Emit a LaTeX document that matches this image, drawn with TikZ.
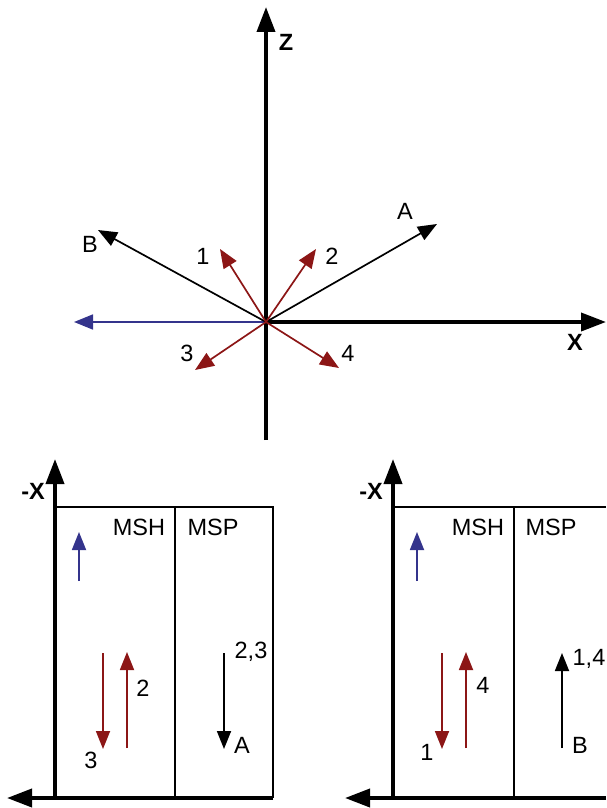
\documentclass[tikz,border=0pt]{standalone}
\usepackage{fontspec}
\setmainfont{Liberation Sans}
\usetikzlibrary{arrows.meta}
\definecolor{vred}{RGB}{140,22,22}
\definecolor{vblue}{RGB}{52,52,140}
\begin{document}
\begin{tikzpicture}[x=1pt,y=-1pt,
  axis/.style={line width=3.8pt,-{Triangle[length=25pt,width=18pt]}},
  vec/.style={line width=1.7pt,-{Triangle[length=19pt,width=15pt]}},
  pvec/.style={line width=1.8pt,-{Triangle[length=18pt,width=14pt]}},
  boxline/.style={line width=1.3pt},
  lbl/.style={inner sep=0pt,font=\fontsize{23.5}{28}\selectfont},
  blbl/.style={inner sep=0pt,font=\fontsize{23.5}{28}\selectfont\bfseries}]
\useasboundingbox (0,0) rectangle (606,808);

% ---------- top diagram ----------
\coordinate (O) at (266,322);
\coordinate (zbot) at (266,440);
\coordinate (ztip) at (266,7);
\coordinate (xtip) at (606,322);
\coordinate (btip) at (98,230);
\coordinate (atip) at (437,224);
\coordinate (t1) at (220,249);
\coordinate (t2) at (316,249);
\coordinate (t3) at (195,370);
\coordinate (t4) at (339,368);
\coordinate (ntip) at (74,322);

\draw[vec,vblue] (O) -- (ntip);
\draw[vec] (O) -- (btip);
\draw[vec] (O) -- (atip);
\draw[axis] (zbot) -- (ztip);
\draw[axis] (O) -- (xtip);
\draw[vec,vred] (O) -- (t1);
\draw[vec,vred] (O) -- (t2);
\draw[vec,vred] (O) -- (t3);
\draw[vec,vred] (O) -- (t4);

\node[blbl] (zl) at (286,42) {Z};
\node[blbl] (xl) at (575,342) {X};
\node[lbl] (bl) at (90,244) {B};
\node[lbl] (al) at (405,211) {A};
\node[lbl] (l1) at (203,256) {1};
\node[lbl] (l2) at (332,256) {2};
\node[lbl] (l3) at (187,353) {3};
\node[lbl] (l4) at (348,353) {4};

% ---------- bottom left panel ----------
\coordinate (p1c) at (55,798);
\coordinate (p1up) at (55,459);
\coordinate (p1left) at (7,798);
\coordinate (p1r) at (273,798);
\coordinate (p1tl) at (55,507);
\coordinate (p1tr) at (273,507);
\coordinate (p1dt) at (175,507);
\coordinate (p1db) at (175,798);

\draw[boxline] (p1tl) -- (p1tr) -- (p1r);
\draw[boxline] (p1dt) -- (p1db);
\draw[axis] (p1r) -- (p1left);
\draw[axis] (p1c) -- (p1up);

\coordinate (b1s) at (79,581);
\coordinate (b1e) at (79,532);
\coordinate (r1s) at (103,653);
\coordinate (r1e) at (103,749);
\coordinate (r2s) at (127,748);
\coordinate (r2e) at (127,652);
\coordinate (k1s) at (224,653);
\coordinate (k1e) at (224,749);
\draw[pvec,vblue] (b1s) -- (b1e);
\draw[pvec,vred] (r1s) -- (r1e);
\draw[pvec,vred] (r2s) -- (r2e);
\draw[pvec] (k1s) -- (k1e);

\node[blbl] (mx1) at (33,491) {-X};
\node[lbl] (msh1) at (139,527) {MSH};
\node[lbl] (msp1) at (213,527) {MSP};
\node[lbl] (q2) at (143,688) {2};
\node[lbl] (q3) at (91,760) {3};
\node[lbl] (q23) at (251,652) {2,3};
\node[lbl] (qa) at (242,745) {A};

% ---------- bottom right panel ----------
\coordinate (p2c) at (393,798);
\coordinate (p2up) at (393,459);
\coordinate (p2left) at (345,798);
\coordinate (p2r) at (606,798);
\coordinate (p2tl) at (393,507);
\coordinate (p2tr) at (606,507);
\coordinate (p2dt) at (514,507);
\coordinate (p2db) at (514,798);

\draw[boxline] (p2tl) -- (p2tr);
\draw[boxline] (p2dt) -- (p2db);
\draw[axis] (p2r) -- (p2left);
\draw[axis] (p2c) -- (p2up);

\coordinate (b2s) at (417,581);
\coordinate (b2e) at (417,532);
\coordinate (s1s) at (442,653);
\coordinate (s1e) at (442,749);
\coordinate (s2s) at (466,748);
\coordinate (s2e) at (466,652);
\coordinate (k2s) at (562,748);
\coordinate (k2e) at (562,653);
\draw[pvec,vblue] (b2s) -- (b2e);
\draw[pvec,vred] (s1s) -- (s1e);
\draw[pvec,vred] (s2s) -- (s2e);
\draw[pvec] (k2s) -- (k2e);

\node[blbl] (mx2) at (371,491) {-X};
\node[lbl] (msh2) at (478,527) {MSH};
\node[lbl] (msp2) at (551,527) {MSP};
\node[lbl] (w4) at (483,685) {4};
\node[lbl] (w1) at (427,752) {1};
\node[lbl] (w14) at (589,659) {1,4};
\node[lbl] (wb) at (580,745) {B};
\end{tikzpicture}
\end{document}
